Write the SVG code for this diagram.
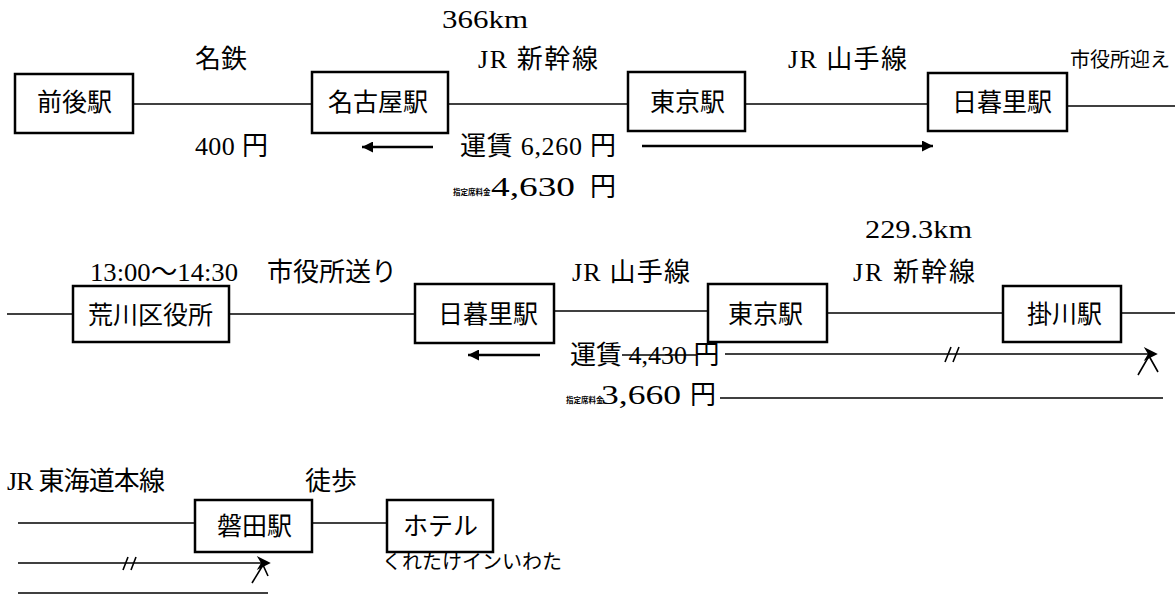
<svg xmlns="http://www.w3.org/2000/svg" width="1175" height="595" viewBox="0 0 1175 595">
<style>
.box{fill:#fff;stroke:#000;stroke-width:2.5}
.ln{stroke:#000;stroke-width:1.6;fill:none}
.arr{stroke:#000;stroke-width:2.5;fill:none}
text{font-family:"Liberation Serif","Noto Sans CJK JP",serif;font-size:26px;fill:#000}
.bx{font-family:"Noto Sans CJK JP",sans-serif;font-size:25px}
.jp{font-family:"Liberation Serif","Noto Sans CJK JP",sans-serif}
.num{font-family:"Liberation Serif",serif;font-size:28px}
.sm{font-family:"Noto Sans CJK JP",sans-serif;font-size:20px}
.tiny{font-family:"Noto Sans CJK JP",sans-serif;font-size:7.5px;font-weight:bold}
</style>
<defs>
<marker id="ah" viewBox="0 0 10 10" refX="10" refY="5" markerWidth="15" markerHeight="11" markerUnits="userSpaceOnUse" orient="auto">
<path d="M0,0 L10,5 L0,10 z" fill="#000"/>
</marker>
<marker id="ahx" viewBox="0 0 10 10" refX="8" refY="5" markerWidth="16" markerHeight="14" markerUnits="userSpaceOnUse" orient="auto">
<path d="M0,0 L10,5 L0,10 L3,5 z" fill="#000"/>
</marker>
</defs>

<g id="connectors">
<!-- row 1 -->
<line class="ln" x1="133" y1="104" x2="312" y2="104"/>
<line class="ln" x1="448" y1="104" x2="628" y2="104"/>
<line class="ln" x1="745" y1="104" x2="928" y2="104"/>
<line class="ln" x1="1067" y1="106" x2="1175" y2="106"/>
<line class="arr" x1="433" y1="147" x2="362" y2="147" marker-end="url(#ah)"/>
<line class="arr" x1="642" y1="146" x2="933" y2="146" marker-end="url(#ah)"/>
<!-- row 2 -->
<line class="ln" x1="7" y1="314" x2="73" y2="314"/>
<line class="ln" x1="229" y1="314" x2="415" y2="314"/>
<line class="ln" x1="554" y1="311" x2="708" y2="311"/>
<line class="ln" x1="827" y1="313" x2="1003" y2="313"/>
<line class="ln" x1="1121" y1="313" x2="1175" y2="313"/>
<line class="arr" x1="540" y1="355" x2="468" y2="355" marker-end="url(#ah)"/>
<line class="ln" x1="725" y1="354" x2="1155" y2="354" marker-end="url(#ahx)"/>
<path class="ln" d="M945,362 L951,347 M953,362 L959,347"/>
<path class="ln" stroke-width="2.2" d="M1149,356 L1138,375 M1149,356 L1158,372"/>
<line class="ln" x1="720" y1="398" x2="1163" y2="398"/>
<!-- row 3 -->
<line class="ln" x1="18" y1="523" x2="195" y2="523"/>
<line class="ln" x1="312" y1="523" x2="387" y2="523"/>
<line class="ln" x1="18" y1="563" x2="268" y2="563" marker-end="url(#ahx)"/>
<path class="ln" d="M123,570 L128,557 M131,570 L136,557"/>
<path class="ln" stroke-width="2.2" d="M263,565 L252,583 M263,565 L268,576"/>
<line class="ln" x1="18" y1="593" x2="268" y2="593"/>
</g>

<g id="node-zengo"><rect class="box" x="15" y="74" width="118" height="59"/><text class="bx" x="37" y="111">前後駅</text></g>
<g id="node-nagoya"><rect class="box" x="312" y="72" width="136" height="61"/><text class="bx" x="328" y="111">名古屋駅</text></g>
<g id="node-tokyo1"><rect class="box" x="628" y="72" width="117" height="59"/><text class="bx" x="650" y="111">東京駅</text></g>
<g id="node-nippori1"><rect class="box" x="928" y="73" width="139" height="58"/><text class="bx" x="952" y="111">日暮里駅</text></g>

<g id="node-arakawa"><rect class="box" x="73" y="286" width="156" height="56"/><text class="bx" x="88" y="324">荒川区役所</text></g>
<g id="node-nippori2"><rect class="box" x="415" y="284" width="139" height="59"/><text class="bx" x="438" y="323">日暮里駅</text></g>
<g id="node-tokyo2"><rect class="box" x="708" y="284" width="119" height="58"/><text class="bx" x="728" y="323">東京駅</text></g>
<g id="node-kakegawa"><rect class="box" x="1003" y="286" width="118" height="56"/><text class="bx" x="1027" y="323">掛川駅</text></g>

<g id="node-iwata"><rect class="box" x="195" y="500" width="117" height="52"/><text class="bx" x="217" y="535">磐田駅</text></g>
<g id="node-hotel"><rect class="box" x="387" y="500" width="106" height="52"/><text class="bx" x="403" y="535">ホテル</text></g>

<g id="labels">
<text x="442" y="28" textLength="86" lengthAdjust="spacingAndGlyphs">366km</text>
<text class="jp" x="195" y="68">名鉄</text>
<text class="jp" x="478" y="68" textLength="120" lengthAdjust="spacing">JR 新幹線</text>
<text class="jp" x="788" y="68" textLength="119" lengthAdjust="spacing">JR 山手線</text>
<text class="sm" x="1070" y="67">市役所迎え</text>
<text class="jp" x="195" y="155" textLength="73" lengthAdjust="spacing">400 円</text>
<text class="jp" x="460" y="155" textLength="156" lengthAdjust="spacing">運賃 6,260 円</text>
<text class="tiny" x="453" y="195">指定席料金</text>
<text class="num" x="491" y="196" textLength="84" lengthAdjust="spacingAndGlyphs">4,630</text>
<text class="jp" x="590" y="196">円</text>
<text x="865" y="238" textLength="107" lengthAdjust="spacingAndGlyphs">229.3km</text>
<text class="jp" x="90" y="281" textLength="148" lengthAdjust="spacingAndGlyphs">13:00～14:30</text>
<text class="jp" x="267" y="281" font-size="24">市役所送り</text>
<text class="jp" x="572" y="281" textLength="118" lengthAdjust="spacing">JR 山手線</text>
<text class="jp" x="853" y="281" textLength="122" lengthAdjust="spacing">JR 新幹線</text>
<text class="jp" x="570" y="364">運賃 4,430 円</text>
<line class="ln" x1="622" y1="355" x2="696" y2="355" stroke-width="2"/>
<text class="tiny" x="566" y="403">指定席料金</text>
<text class="num" x="601" y="404" textLength="80" lengthAdjust="spacingAndGlyphs">3,660</text>
<text class="jp" x="690" y="404">円</text>
<text class="jp" x="7" y="490" textLength="158" lengthAdjust="spacing">JR 東海道本線</text>
<text class="jp" x="305" y="490">徒歩</text>
<text class="sm" x="382" y="569">くれたけインいわた</text>
</g>
</svg>
